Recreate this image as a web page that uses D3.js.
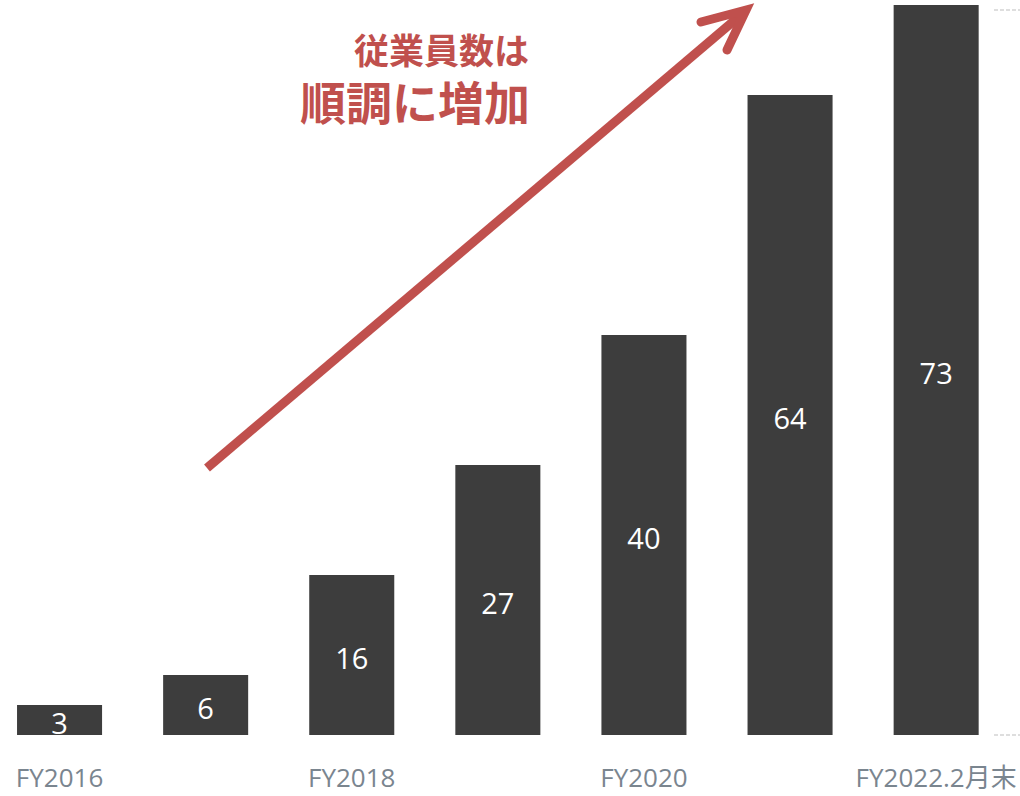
<!DOCTYPE html>
<html>
<head>
<meta charset="utf-8">
<script src="https://cdn.jsdelivr.net/npm/d3@7"></script>
<style>
  html, body { margin: 0; padding: 0; background: #ffffff; }
  svg { display: block; }
</style>
</head>
<body>
<svg id="chart" width="1020" height="796"></svg>
<script>
// Headcount by fiscal year
const categories = ["FY2016", "FY2017", "FY2018", "FY2019", "FY2020", "FY2021", "FY2022.2月末"];
const employees = [3, 6, 16, 27, 40, 64, 73];
const tickLabels = ["FY2016", "", "FY2018", "", "FY2020", "", "FY2022.2月末"];
const gridValues = [0, 72.5];
const titleLines = ["従業員数は", "順調に増加"];

const svg = d3.select("#chart");

const x = d3.scaleBand()
  .domain(categories)
  .range([-13.5, 1009.2])
  .paddingInner(0.418)
  .paddingOuter(0.209);

const y = d3.scaleLinear()
  .domain([0, 72.5])
  .range([735, 10]);

// short dashed guides at the right edge
svg.append("g").selectAll("line")
  .data(gridValues)
  .join("line")
  .attr("x1", 994).attr("x2", 1020)
  .attr("y1", d => y(d)).attr("y2", d => y(d))
  .attr("stroke", "#bdbdbd")
  .attr("stroke-width", 1)
  .attr("stroke-dasharray", "4,2");

// bars
svg.append("g").selectAll("rect")
  .data(employees)
  .join("rect")
  .attr("x", (d, i) => x(categories[i]))
  .attr("width", x.bandwidth())
  .attr("y", d => y(d))
  .attr("height", d => y(0) - y(d))
  .attr("fill", "#3d3d3d");

// value labels centred in each bar
svg.append("g").selectAll("text")
  .data(employees)
  .join("text")
  .attr("x", (d, i) => x(categories[i]) + x.bandwidth() / 2)
  .attr("y", d => (y(d) + y(0)) / 2 + 2)
  .attr("text-anchor", "middle")
  .attr("dominant-baseline", "central")
  .attr("font-family", "'Open Sans', 'Noto Sans', sans-serif")
  .attr("font-size", 29)
  .attr("fill", "#ffffff")
  .text(d => d);

// category axis (every other label shown)
const xAxis = d3.axisBottom(x)
  .tickSize(0)
  .tickPadding(0)
  .tickFormat((d, i) => tickLabels[i]);

const axisG = svg.append("g")
  .attr("transform", `translate(0, ${y(0)})`)
  .call(xAxis);
axisG.select(".domain").remove();
axisG.selectAll("text")
  .attr("dy", null)
  .attr("y", 52)
  .attr("font-family", "'Open Sans', 'Noto Sans', 'Noto Sans CJK JP', sans-serif")
  .attr("font-size", 26)
  .attr("fill", "#7a858f");

// growth arrow
const arrowColor = "#c0504d";
const tail = [207, 468];
const tip = [746, 10];
const arrowG = svg.append("g")
  .attr("stroke", arrowColor)
  .attr("fill", "none")
  .attr("stroke-width", 9);
arrowG.append("line")
  .attr("x1", tail[0]).attr("y1", tail[1])
  .attr("x2", tip[0] - 4).attr("y2", tip[1] + 4)
  .attr("stroke-linecap", "butt");
arrowG.append("path")
  .attr("d", d3.line()([[701, 22], tip, [727, 50]]))
  .attr("stroke-linecap", "round")
  .attr("stroke-linejoin", "miter");

// headline
const title = svg.append("g")
  .attr("fill", arrowColor)
  .attr("font-family", "'Noto Sans CJK JP', sans-serif")
  .attr("font-weight", "bold")
  .attr("text-anchor", "end");
title.append("text")
  .attr("x", 529).attr("y", 64)
  .attr("font-size", 35)
  .text(titleLines[0]);
title.append("text")
  .attr("x", 530).attr("y", 120)
  .attr("font-size", 46)
  .text(titleLines[1]);
</script>
</body>
</html>
